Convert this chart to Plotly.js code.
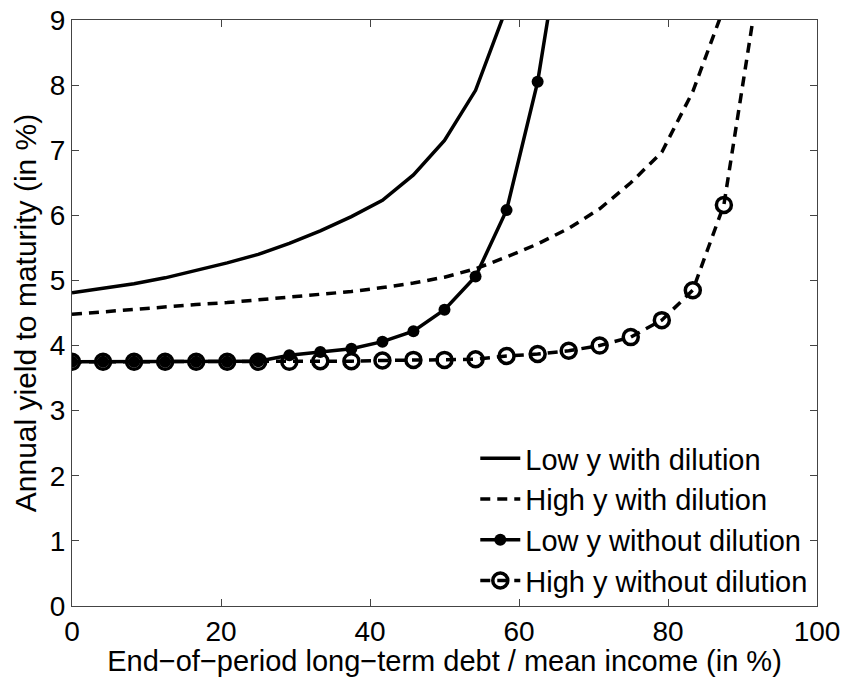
<!DOCTYPE html>
<html>
<head>
<meta charset="utf-8">
<script src="https://cdn.plot.ly/plotly-3.0.1.min.js"></script>
<style>html,body{margin:0;padding:0;background:#fff;}#chart{width:845px;height:677px;}</style>
</head>
<body>
<div id="chart"></div>
<script>
// Debt / mean income grid (in %)
const debtGrid = [0, 4.17, 8.33, 12.5, 16.67, 20.83, 25, 29.17, 33.33, 37.5, 41.67, 45.83, 50,
                  54.17, 58.33, 62.5, 66.67, 70.83, 75, 79.17, 83.33, 87.5, 91.67];

// Annual yield to maturity (in %)
const lowWithDilution = [4.81, 4.88, 4.95, 5.04, 5.15, 5.27, 5.40, 5.57, 5.76, 5.98, 6.23, 6.62, 7.15,
                         7.92, 9.19];
const highWithDilution = [4.48, 4.52, 4.56, 4.59, 4.63, 4.66, 4.70, 4.74, 4.78, 4.83, 4.89, 4.96, 5.05,
                          5.18, 5.36, 5.56, 5.80, 6.10, 6.50, 6.97, 7.90, 9.19];
const lowWithoutDilution = [3.75, 3.75, 3.75, 3.75, 3.75, 3.75, 3.76, 3.85, 3.90, 3.95, 4.06, 4.22, 4.55,
                            5.06, 6.08, 8.05, 11.0];
const highWithoutDilution = [3.75, 3.75, 3.75, 3.75, 3.75, 3.75, 3.75, 3.75, 3.76, 3.76, 3.77, 3.78, 3.78,
                             3.79, 3.84, 3.87, 3.92, 4.00, 4.13, 4.39, 4.85, 6.16, 9.2];

const seriesNames = ["Low y with dilution", "High y with dilution",
                     "Low y without dilution", "High y without dilution"];
const xTicks = [0, 20, 40, 60, 80, 100];
const yTicks = [0, 1, 2, 3, 4, 5, 6, 7, 8, 9];

const FONT = "Liberation Sans, Arial, Helvetica, sans-serif";
const LW = 3.5;

const traces = [
  {x: debtGrid.slice(0, lowWithDilution.length), y: lowWithDilution, name: seriesNames[0],
   mode: "lines", line: {color: "#000", width: LW}, legendgroup: "a", legendrank: 1},
  {x: debtGrid.slice(0, highWithDilution.length), y: highWithDilution, name: seriesNames[1],
   mode: "lines", line: {color: "#000", width: LW, dash: "10px,7px"}, legendgroup: "b", legendrank: 2},
  {x: debtGrid.slice(0, highWithoutDilution.length), y: highWithoutDilution, name: seriesNames[3],
   mode: "lines+markers", line: {color: "#000", width: LW, dash: "10px,7px"},
   marker: {symbol: "circle-open", size: 15, color: "#000", line: {width: 3.5, color: "#000"}},
   legendgroup: "d", legendrank: 4},
  {x: debtGrid.slice(0, lowWithoutDilution.length), y: lowWithoutDilution, name: seriesNames[2],
   mode: "lines+markers", line: {color: "#000", width: LW},
   marker: {symbol: "circle", size: 12, color: "#000"}, legendgroup: "c", legendrank: 3}
];

const axisCommon = {
  showgrid: false, zeroline: false, showline: true, mirror: "ticks",
  linecolor: "#444", linewidth: 1, ticks: "inside", ticklen: 7, tickcolor: "#444",
  tickfont: {family: FONT, size: 28, color: "#000"}
};

const layout = {
  width: 845, height: 677,
  margin: {l: 72, r: 28, t: 20, b: 71},
  paper_bgcolor: "#fff", plot_bgcolor: "#fff",
  showlegend: true,
  legend: {x: 0.995, y: 0.0, xanchor: "right", yanchor: "bottom",
           bgcolor: "rgba(0,0,0,0)", borderwidth: 0,
           font: {family: FONT, size: 29, color: "#000"},
           tracegroupgap: 0, itemwidth: 40, traceorder: "normal"},
  xaxis: Object.assign({}, axisCommon, {
    range: [0, 100], tickvals: xTicks, ticktext: xTicks.map(String),
    title: {text: "End\u2212of\u2212period long\u2212term debt / mean income (in %)",
            font: {family: FONT, size: 29, color: "#000"}, standoff: 0}
  }),
  yaxis: Object.assign({}, axisCommon, {
    range: [0, 9], tickvals: yTicks, ticktext: yTicks.map(String),
    title: {text: "Annual yield to maturity (in %)",
            font: {family: FONT, size: 30, color: "#000"}, standoff: 4}
  })
};

Plotly.newPlot("chart", traces, layout, {staticPlot: true, displayModeBar: false});
</script>
</body>
</html>
